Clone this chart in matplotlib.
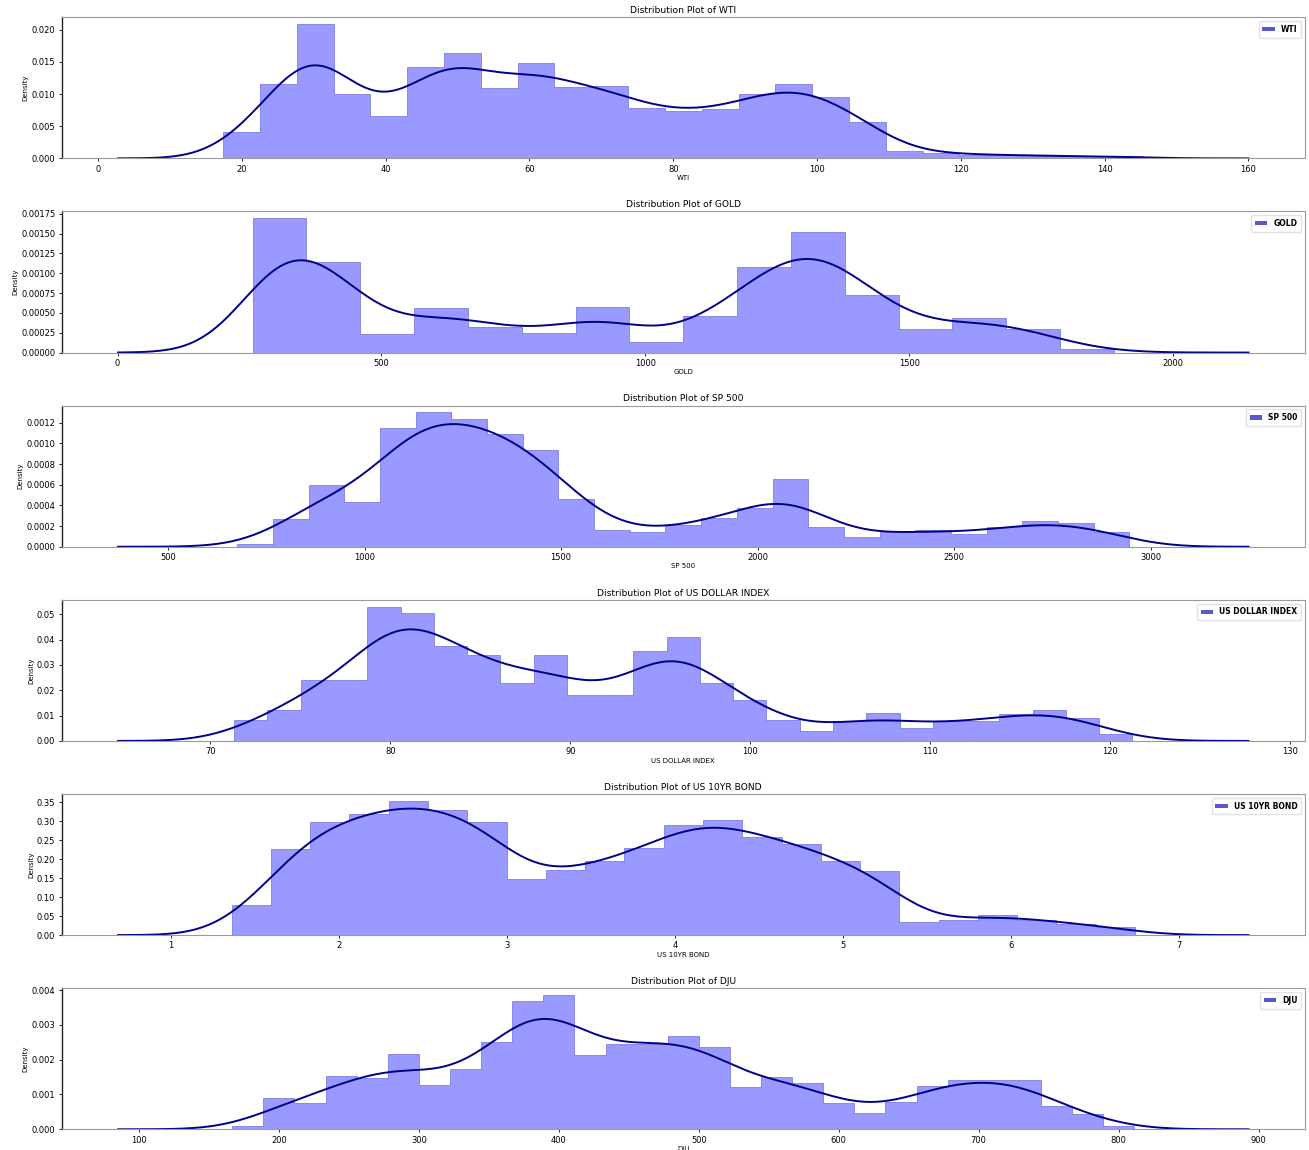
import numpy as np
import matplotlib.pyplot as plt
from matplotlib.patches import Patch
from matplotlib.ticker import MultipleLocator
from math import erf

names = ['WTI', 'GOLD', 'SP 500', 'US DOLLAR INDEX', 'US 10YR BOND', 'DJU']

# histogram bins: (first edge, last edge, number of bins) and density per bin
wti_bins = (17.4, 145.4, 25)
wti_density = [0.0041, 0.0115, 0.0209, 0.0100, 0.0066, 0.01425, 0.01646, 0.0110,
               0.0149, 0.0111, 0.0112, 0.0079, 0.0073, 0.0077, 0.0100, 0.0115,
               0.0096, 0.0056, 0.0012, 0.0008, 0.0006, 0.0005, 0.0004, 0.0003, 0.0003]

gold_bins = (256, 1888, 16)
gold_density = [0.001695, 0.001141, 0.000239, 0.000566, 0.000319, 0.000247, 0.000575,
                0.000132, 0.000462, 0.001075, 0.00152, 0.000725, 0.000298, 0.000436,
                0.000294, 0.00004]

sp_bins = (676, 2946, 25)
sp_density = [0.000026, 0.000264, 0.000595, 0.000436, 0.001144, 0.0013, 0.001233,
              0.00109, 0.000939, 0.000463, 0.000165, 0.00014, 0.000211, 0.000278,
              0.000379, 0.000657, 0.000194, 0.000094, 0.000144, 0.000161, 0.000121,
              0.000188, 0.000245, 0.000228, 0.000144]

usd_bins = (71.33, 121.22, 27)
usd_density = [0.0084, 0.0123, 0.024, 0.024, 0.0531, 0.0504, 0.0376, 0.034, 0.0228,
               0.0341, 0.0181, 0.0181, 0.0357, 0.041, 0.0228, 0.016, 0.0082, 0.0038,
               0.008, 0.0111, 0.0053, 0.008, 0.0078, 0.0107, 0.0123, 0.0092, 0.0027]

bond_bins = (1.3625, 6.736, 23)
bond_density = [0.079, 0.227, 0.299, 0.3196, 0.3546, 0.330, 0.299, 0.148, 0.172, 0.195,
                0.23, 0.291, 0.303, 0.26, 0.24, 0.195, 0.17, 0.035, 0.041, 0.053,
                0.041, 0.030, 0.021]

dju_bins = (166.6, 811.2, 29)
dju_density = [0.0001, 0.0009, 0.00076, 0.00153, 0.00146, 0.00216, 0.00127, 0.00172,
               0.0025, 0.00369, 0.00386, 0.00214, 0.00246, 0.00245, 0.00269, 0.00235,
               0.00122, 0.00151, 0.00132, 0.00075, 0.00048, 0.00078, 0.00125, 0.00143,
               0.00143, 0.00143, 0.00068, 0.00045, 0.00009]

all_bins = [wti_bins, gold_bins, sp_bins, usd_bins, bond_bins, dju_bins]
all_density = [wti_density, gold_density, sp_density, usd_density, bond_density, dju_density]

# kde bandwidth per series, kde drawn over [min - 3bw, max + 3bw]
kde_bw = [4.88, 85, 101, 2.15, 0.225, 27.2]

x_step = [20, 500, 500, 10, 1, 100]
y_step = [0.005, 0.00025, 0.0002, 0.01, 0.05, 0.001]

phi = np.vectorize(lambda z: 0.5 * (1 + erf(z / np.sqrt(2))))


def smooth_density(edges, dens, bw, x):
    # histogram density smoothed with a gaussian kernel
    w = edges[1] - edges[0]
    s = np.sqrt(max(bw ** 2 - w ** 2 / 12, (bw * 0.5) ** 2))
    y = np.zeros_like(x)
    for a, b, h in zip(edges[:-1], edges[1:], dens):
        y += h * (phi((x - a) / s) - phi((x - b) / s))
    return y


fig, axes = plt.subplots(6, 1, figsize=(13.09, 11.5), dpi=100)
fig.subplots_adjust(left=0.047, right=0.997, top=0.985, bottom=0.018, hspace=0.376)

for i, ax in enumerate(axes):
    lo, hi, n = all_bins[i]
    edges = np.linspace(lo, hi, n + 1)
    dens = np.array(all_density[i])
    ax.hist(edges[:-1], bins=edges, weights=dens, histtype='stepfilled',
            facecolor='blue', edgecolor='#2020c0', alpha=0.4, linewidth=0.7)
    bw = kde_bw[i]
    xs = np.linspace(lo - 3 * bw, hi + 3 * bw, 300)
    ax.plot(xs, smooth_density(edges, dens, bw, xs), color='#00008b', linewidth=1.4)

    ax.xaxis.set_major_locator(MultipleLocator(x_step[i]))
    ax.yaxis.set_major_locator(MultipleLocator(y_step[i]))
    ax.tick_params(labelsize=6, length=2.5, width=0.6, pad=2)
    ax.set_title('Distribution Plot of ' + names[i], fontsize=6.6, pad=3)
    ax.set_xlabel(names[i], fontsize=5, labelpad=1)
    ax.set_ylabel('Density', fontsize=5, labelpad=2)
    handle = Patch(facecolor='#5858cc', edgecolor='none')
    ax.legend([handle], [names[i]], loc='upper right',
              prop={'size': 5.5, 'weight': 'bold'}, handlelength=1.6,
              handleheight=0.45, borderpad=0.5, framealpha=1, edgecolor='#e2e2e2')
    ax.spines['left'].set_color('#222222')
    ax.spines['left'].set_linewidth(1.0)
    for side in ['top', 'right', 'bottom']:
        ax.spines[side].set_color('#9a9a9a')
        ax.spines[side].set_linewidth(0.8)

fig.savefig('out.png', dpi=100)
